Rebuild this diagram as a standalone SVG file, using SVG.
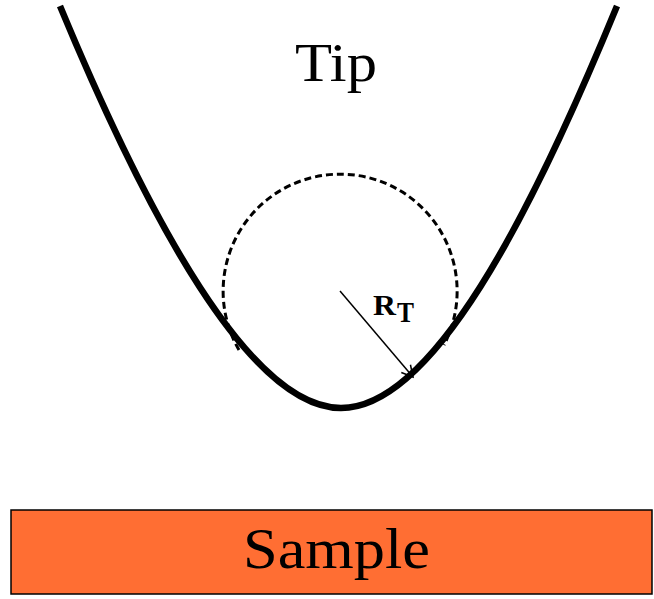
<svg xmlns="http://www.w3.org/2000/svg" width="654" height="599" viewBox="0 0 654 599">
<style>
.lbl{font-family:"Liberation Serif","Times New Roman",serif;fill:#000}
</style>
<defs>
<marker id="ah" markerWidth="14" markerHeight="14" refX="12" refY="7" orient="auto" markerUnits="userSpaceOnUse">
<path d="M1,1 L12,7 L1,13" fill="none" stroke="#000" stroke-width="1.5"/>
</marker>
</defs>
<rect width="654" height="599" fill="#fff"/>
<g id="sample">
<rect x="11" y="510" width="641" height="84" fill="#FF6E33" stroke="#000" stroke-width="1.5"/>
<text class="lbl" x="243" y="568" font-size="57" textLength="187" lengthAdjust="spacingAndGlyphs">Sample</text>
</g>
<g id="tip">
<path d="M60,6 C148,218 250,408 341,408 C432,408 530,218 617,6" fill="none" stroke="#000" stroke-width="6.5"/>
<text class="lbl" x="295" y="81" font-size="55" textLength="82" lengthAdjust="spacingAndGlyphs">Tip</text>
</g>
<g id="circle">
<path d="M239,350 A117,117 0 1 1 444,345" fill="none" stroke="#000" stroke-width="3" stroke-dasharray="7,4"/>
</g>
<g id="connectors">
<line x1="340" y1="291" x2="413" y2="377" stroke="#000" stroke-width="1.5" marker-end="url(#ah)"/>
</g>
<g id="label-rt">
<text class="lbl" x="373" y="315" font-size="29" font-weight="bold" textLength="23" lengthAdjust="spacingAndGlyphs">R</text>
<text class="lbl" x="397" y="322" font-size="29" font-weight="bold" textLength="17" lengthAdjust="spacingAndGlyphs">T</text>
</g>
</svg>
